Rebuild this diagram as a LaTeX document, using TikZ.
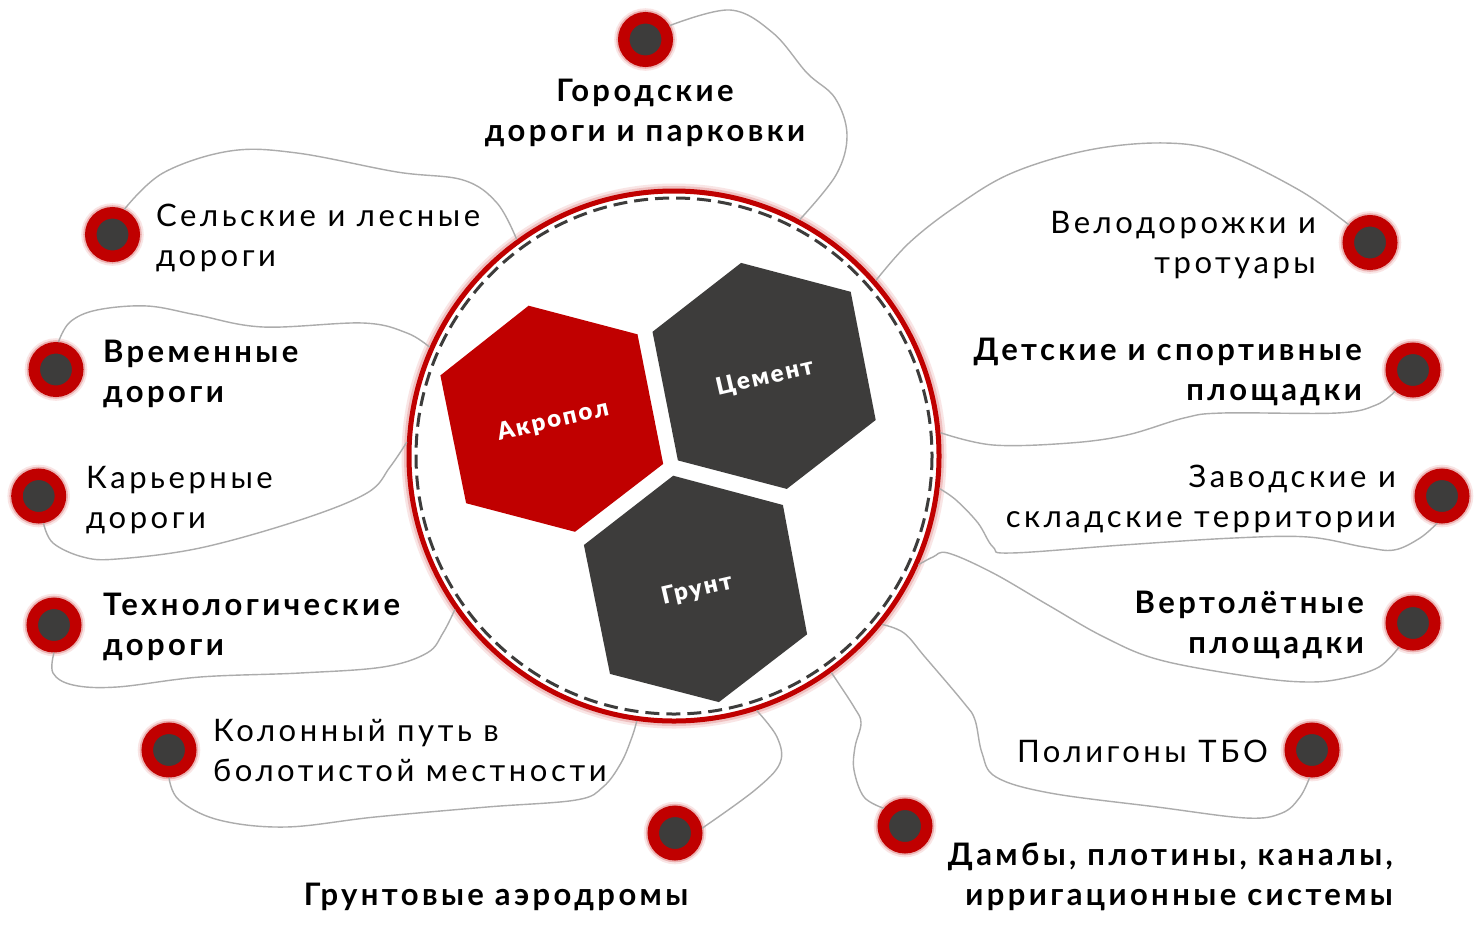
\documentclass[tikz,border=0pt]{standalone}
\usepackage{fontspec}
\usepackage{tikz}
\setmainfont{Lato}
\newfontfamily\lblfont[LetterSpace=11.5]{Lato-Regular.ttf}
\newfontfamily\lblbfont[LetterSpace=11]{Lato-Bold.ttf}
\newfontfamily\hexfont[LetterSpace=9]{Lato-Black.ttf}
\definecolor{acred}{RGB}{192,0,0}
\definecolor{dkgray}{RGB}{61,60,59}
\definecolor{linkgray}{RGB}{172,172,172}

\tikzset{
  dot/.style = {circle, fill=dkgray, draw=acred, line width=11.5pt,
                minimum size=43.5pt, inner sep=0pt,
                preaction={draw=acred!10, line width=19pt},
                preaction={draw=acred!30, line width=15pt}},
  ring/.style = {circle, fill=white, draw=acred, line width=5pt,
                 minimum size=530pt, inner sep=0pt,
                 preaction={draw=acred!10, line width=15pt},
                 preaction={draw=acred!25, line width=10pt}},
  lbl/.style = {inner sep=0pt, font=\lblfont\fontsize{31}{40}\selectfont},
  lblbold/.style = {inner sep=0pt, font=\lblbfont\fontsize{31}{40}\selectfont},
  link/.style = {draw=linkgray, line width=1.4pt},
  hextext/.style = {text=white, rotate=13, inner sep=0pt,
                    font=\hexfont\fontsize{24}{26}\selectfont}
}

\begin{document}
\begin{tikzpicture}[x=1pt, y=-1pt]
\useasboundingbox (0,0) rectangle (1482,935);
\fill[white] (0,0) rectangle (1482,935);

% dots round the ring
\node[dot] (d1) at (645.5,39.5) {};
\node[dot] (d2) at (112.5,234.5) {};
\node[dot] (d3) at (56,369.5) {};
\node[dot] (d4) at (38.7,496) {};
\node[dot] (d5) at (54,625) {};
\node[dot] (d6) at (169,750) {};
\node[dot] (d7) at (675,833) {};
\node[dot] (d8) at (905,826) {};
\node[dot] (d9) at (1312,750) {};
\node[dot] (d10) at (1413,623) {};
\node[dot] (d11) at (1442,496) {};
\node[dot] (d12) at (1413,370) {};
\node[dot] (d13) at (1370,242.5) {};

\node[ring] (ring) at (674,456) {};
\draw[dkgray, line width=3pt, dash pattern=on 14pt off 7pt] (ring.center) circle (258);

% hexagons
\fill[acred] (528.6,305.7) -- (637.5,334.3) -- (663.2,463.9) -- (575,531.8)
  -- (466.1,503.2) -- (440.4,375.4) -- cycle;
\fill[dkgray] (741.1,262.9) -- (850.7,291.8) -- (875.7,420) -- (786.8,488.9)
  -- (677.9,460.4) -- (652.5,331.8) -- cycle;
\fill[dkgray] (673.2,475.7) -- (782.9,505) -- (807.1,634.3) -- (718.9,702.1)
  -- (610,673.9) -- (583.9,545) -- cycle;
\node[hextext] (akropol) at (553,421) {Акропол};
\node[hextext] (cement) at (765,378) {Цемент};
\node[hextext] (grunt) at (697,590) {Грунт};

% links
\draw[link] plot[smooth, tension=0.6] coordinates {(d1.30) (730,10) (773,33) (807,73)
  (835,98) (847,135) (836,175) (ring.62)};
\draw[link] plot[smooth, tension=0.6] coordinates {(d2.65) (163,173) (230,151) (297,153)
  (397,172) (463,180) (497,203) (ring.126)};
\draw[link] plot[smooth, tension=0.6] coordinates {(d3.85) (70,322) (97,310) (147,306)
  (197,315) (263,327) (363,323) (407,333) (ring.156)};
\draw[link] plot[smooth, tension=0.6] coordinates {(d4.-80) (53,543) (83,557) (117,559)
  (200,548) (300,520) (367,493) (390,467) (ring.177)};
\draw[link] plot[smooth, tension=0.6] coordinates {(d5.-90) (53,673) (73,685) (117,687)
  (200,677) (300,673) (383,667) (427,653) (443,633) (ring.215)};
\draw[link] plot[smooth, tension=0.6] coordinates {(d6.-90) (179,800) (219,820) (286,827)
  (375,817) (487,807) (576,800) (603,787) (621,763) (632,737) (ring.262)};
\draw[link] plot[smooth, tension=0.6] coordinates {(d7.10) (755,790) (780,763) (777,737)
  (ring.288)};
\draw[link] plot[smooth, tension=0.6] coordinates {(d8.140) (864,797) (854,770) (855,747)
  (861,723) (854,707) (ring.306)};
\draw[link] plot[smooth, tension=0.6] coordinates {(d9.-95) (1300,797) (1282,813)
  (1246,818) (1157,807) (1050,793) (996,777) (982,753) (975,720) (964,703) (925,657)
  (904,633) (ring.321)};
\draw[link] plot[smooth, tension=0.6] coordinates {(d10.-120) (1379,667) (1345,678)
  (1308,682) (1253,677) (1160,660) (1104,637) (1048,605) (993,573) (948,553) (933,557)
  (ring.336)};
\draw[link] plot[smooth, tension=0.6] coordinates {(d11.-100) (1420,538) (1394,550)
  (1364,547) (1308,537) (1234,538) (1123,545) (1011,553) (993,547) (978,523) (956,500)
  (ring.353)};
\draw[link] plot[smooth, tension=0.6] coordinates {(d12.-130) (1376,405) (1337,413)
  (1223,413) (1184,418) (1127,435) (1070,443) (993,445) (ring.5)};
\draw[link] plot[smooth, tension=0.6] coordinates {(d13.140) (1299,190) (1223,153)
  (1165,143) (1089,150) (1012,173) (955,207) (909,243) (ring.41.5)};

% labels (base = baseline of the last line)
\node[lblbold, anchor=base, align=center] (t1) at (645,141) {Городские\\дороги и парковки};
\node[lbl, anchor=base west, align=left] (t2) at (156,266) {Сельские и лесные\\дороги};
\node[lblbold, anchor=base west, align=left] (t3) at (103,402) {Временные\\дороги};
\node[lbl, anchor=base west, align=left] (t4) at (86,528) {Карьерные\\дороги};
\node[lblbold, anchor=base west, align=left] (t5) at (103,655) {Технологические\\дороги};
\node[lbl, anchor=base west, align=left] (t6) at (213,781) {Колонный путь в\\болотистой местности};
\node[lblbold, anchor=base] (t7) at (496,905) {Грунтовые аэродромы};
\node[lblbold, anchor=base east, align=right] (t8) at (1393,905) {Дамбы, плотины, каналы,\\ирригационные системы};
\node[lbl, anchor=base east] (t9) at (1268,762) {Полигоны ТБО};
\node[lblbold, anchor=base east, align=right] (t10) at (1364,653) {Вертолётные\\площадки};
\node[lbl, anchor=base east, align=right] (t11) at (1396,527) {Заводские и\\складские территории};
\node[lblbold, anchor=base east, align=right] (t12) at (1362,400) {Детские и спортивные\\площадки};
\node[lbl, anchor=base east, align=right] (t13) at (1316,273) {Велодорожки и\\тротуары};
\end{tikzpicture}
\end{document}
